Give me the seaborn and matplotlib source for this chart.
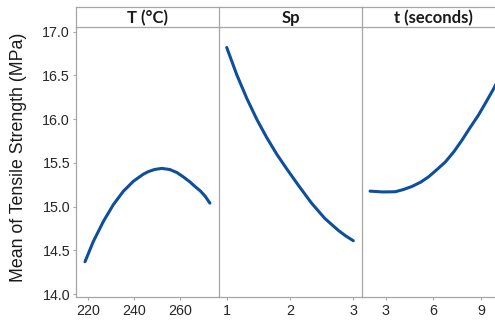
import pandas as pd
import seaborn as sns
import matplotlib.pyplot as plt

# values
temp_T = [218.6, 222.2, 226.6, 230.9, 235.3, 239.7, 244.0, 246.2, 249.0,
          252.1, 255.5, 258.7, 261.5, 264.5, 266.6, 268.9, 271.0, 273.1]
mean_T = [14.37, 14.60, 14.83, 15.02, 15.175, 15.29, 15.37, 15.40, 15.425,
          15.437, 15.425, 15.39, 15.34, 15.28, 15.23, 15.18, 15.12, 15.04]

speed_Sp = [1.0, 1.158, 1.316, 1.474, 1.632, 1.79, 1.95, 2.13, 2.34,
            2.55, 2.76, 2.88, 3.0]
mean_Sp = [16.82, 16.51, 16.24, 16.00, 15.79, 15.60, 15.43, 15.246, 15.04,
           14.865, 14.73, 14.665, 14.61]

time_t = [2.01, 2.8, 3.59, 4.1, 4.64, 5.2, 5.69, 6.2, 6.75, 7.3, 7.80,
          8.3, 8.85, 9.3, 9.80, 10.0]
mean_t = [15.177, 15.168, 15.17, 15.195, 15.23, 15.28, 15.34, 15.42, 15.51,
          15.63, 15.76, 15.9, 16.05, 16.19, 16.35, 16.42]

titles = ['T (°C)', 'Sp', 't (seconds)']
xticks = [[220, 240, 260], [1, 2, 3], [3, 6, 9]]
xlims = [(214.8, 277.2), (0.883, 3.142), (1.52, 10.53)]

sns.set_style('white')
plt.rcParams['font.family'] = ['Liberation Sans', 'DejaVu Sans']

W, H = 495, 321
fig = plt.figure(figsize=(W / 100, H / 100), dpi=100)


def px(x0, y0, x1, y1):
    return [x0 / W, 1 - y1 / H, (x1 - x0) / W, (y1 - y0) / H]


line_color = '#0d4f9c'
grid_color = '#a6a6a6'
edges = [76.3, 219.3, 362.3, 505.3]
data = [(temp_T, mean_T), (speed_Sp, mean_Sp), (time_t, mean_t)]

for i, (xs, ys) in enumerate(data):
    ax = fig.add_axes(px(edges[i], 27, edges[i + 1], 296.7))
    df = pd.DataFrame({'x': xs, 'y': ys})
    sns.lineplot(data=df, x='x', y='y', ax=ax, color=line_color, lw=2.2)
    ax.set_xlim(*xlims[i])
    ax.set_ylim(13.97, 17.054)
    ax.set_xticks(xticks[i])
    ax.set_yticks([14.0, 14.5, 15.0, 15.5, 16.0, 16.5, 17.0])
    ax.set_xlabel('')
    ax.set_ylabel('')
    for s in ['top', 'right']:
        ax.spines[s].set_visible(False)
    for s in ['left', 'bottom']:
        ax.spines[s].set_color(grid_color)
        ax.spines[s].set_linewidth(0.9)
    ax.tick_params(axis='both', length=2.5, width=0.8, color=grid_color,
                   labelsize=10.3, labelcolor='#262626', pad=2)
    ax.tick_params(axis='y', left=(i == 0), labelleft=(i == 0))
    ax.tick_params(axis='x', bottom=True, pad=3)

    strip = fig.add_axes(px(edges[i], 7.3, edges[i + 1], 27))
    strip.set_xticks([])
    strip.set_yticks([])
    strip.spines['right'].set_visible(False)
    for s in ['top', 'bottom', 'left']:
        strip.spines[s].set_color(grid_color)
        strip.spines[s].set_linewidth(0.9)
    strip.text(0.5, 0.45, titles[i], ha='center', va='center', fontsize=12,
               fontweight='bold', family=['Lato', 'DejaVu Sans'], color='#1a1a1a')

fig.text(19 / W, 1 - 157 / H, 'Mean of Tensile Strength (MPa)', rotation=90,
         ha='center', va='center', fontsize=12.8, color='#1a1a1a')

fig.savefig('out.png', dpi=100)
